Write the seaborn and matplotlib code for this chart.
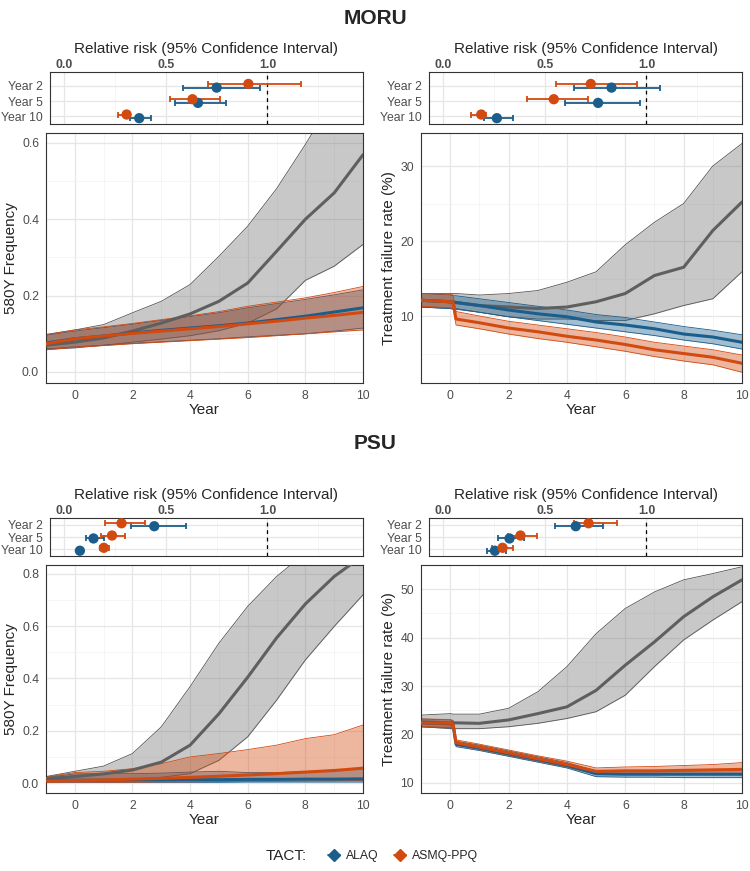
import numpy as np
import pandas as pd
import matplotlib
matplotlib.use("Agg")
import matplotlib.pyplot as plt
from matplotlib.lines import Line2D
from matplotlib.ticker import MultipleLocator, FormatStrFormatter
import seaborn as sns

sns.set_theme(style="white")
plt.rcParams['font.family'] = ['Liberation Sans', 'DejaVu Sans']

BLUE = "#1b5e8c"
ORNG = "#d24a10"
GRAY = "#666666"

# ---- time series (years since TACT start) ----
yrs_a = [-1, 0, 1, 2, 3, 4, 5, 6, 7, 8, 9, 10]
yrs_b = [-1, 0, 0.1, 0.2, 1, 2, 3, 4, 5, 6, 7, 8, 9, 10]

# MORU, 580Y frequency
moru_f_gray = [.070, .078, .089, .107, .128, .152, .185, .233, .316, .400, .469, .569]
moru_f_gray_lo = [.059, .063, .070, .078, .086, .095, .108, .128, .165, .240, .277, .334]
moru_f_gray_hi = [.098, .110, .124, .155, .185, .229, .303, .382, .480, .596, .720, .800]
moru_f_blue = [.076, .087, .094, .102, .109, .115, .121, .128, .137, .146, .157, .168]
moru_f_blue_lo = [.060, .066, .070, .075, .079, .083, .087, .092, .096, .100, .107, .115]
moru_f_blue_hi = [.096, .107, .116, .125, .135, .145, .155, .168, .179, .190, .202, .215]
moru_f_orng = [.074, .087, .094, .101, .107, .113, .119, .126, .133, .141, .148, .156]
moru_f_orng_lo = [.058, .065, .069, .074, .078, .082, .086, .090, .095, .100, .105, .110]
moru_f_orng_hi = [.098, .110, .118, .127, .137, .147, .158, .172, .183, .194, .208, .224]

# MORU, treatment failure
moru_t_gray = [12.1, 11.9, 11.9, 11.8, 11.4, 11.2, 11.0, 11.2, 11.9, 13.0, 15.4, 16.5, 21.4, 25.2]
moru_t_gray_hi = [13.0, 13.0, 13.0, 13.0, 12.8, 13.0, 13.4, 14.5, 15.9, 19.5, 22.5, 25.0, 30.0, 33.0]
moru_t_gray_lo = [11.2, 11.0, 11.0, 11.0, 10.5, 9.9, 9.6, 9.6, 9.4, 9.4, 10.3, 11.4, 12.3, 15.9]
moru_t_blue = [12.1, 11.9, 11.8, 11.8, 11.4, 10.8, 10.3, 9.9, 9.2, 8.8, 8.3, 7.6, 7.2, 6.5]
moru_t_blue_hi = [13.0, 12.8, 12.7, 12.7, 12.3, 11.8, 11.3, 10.8, 10.2, 9.8, 9.2, 8.6, 8.1, 7.5]
moru_t_blue_lo = [11.2, 11.0, 10.9, 10.9, 10.5, 9.9, 9.4, 8.9, 8.4, 7.9, 7.4, 6.8, 6.3, 5.6]
moru_t_orng = [12.1, 11.9, 11.8, 9.6, 9.1, 8.4, 7.9, 7.3, 6.8, 6.2, 5.5, 5.0, 4.5, 3.7]
moru_t_orng_hi = [13.0, 12.9, 12.8, 10.6, 10.0, 9.3, 8.8, 8.3, 7.8, 7.2, 6.5, 6.0, 5.5, 4.8]
moru_t_orng_lo = [11.3, 11.1, 11.0, 8.8, 8.3, 7.6, 7.0, 6.5, 5.9, 5.3, 4.6, 4.0, 3.5, 2.5]

# PSU, 580Y frequency
psu_f_gray = [.017, .025, .035, .050, .080, .145, .265, .405, .555, .685, .790, .870]
psu_f_gray_hi = [.025, .045, .065, .113, .215, .369, .535, .676, .790, .880, .940, .980]
psu_f_gray_lo = [.010, .010, .012, .016, .022, .036, .087, .177, .317, .471, .599, .720]
psu_f_blue = [.010, .011, .011, .012, .012, .013, .013, .014, .014, .015, .015, .016]
psu_f_blue_hi = [.022, .035, .036, .036, .038, .042, .045, .040, .040, .044, .050, .055]
psu_f_blue_lo = [.003, .003, .003, .003, .003, .003, .003, .004, .004, .004, .004, .004]
psu_f_orng = [.008, .010, .012, .015, .018, .022, .026, .031, .036, .042, .048, .057]
psu_f_orng_hi = [.023, .040, .045, .055, .074, .100, .113, .128, .145, .170, .185, .222]
psu_f_orng_lo = [.004, .004, .004, .004, .005, .005, .006, .006, .007, .008, .009, .010]

# PSU, treatment failure
psu_t_gray = [22.6, 22.4, 22.4, 22.4, 22.3, 23.0, 24.3, 25.7, 29.1, 34.3, 39.1, 44.3, 48.4, 51.9]
psu_t_gray_hi = [24.0, 24.3, 24.2, 24.2, 24.2, 25.4, 28.8, 34.0, 40.8, 46.0, 49.4, 51.9, 53.2, 54.6]
psu_t_gray_lo = [21.6, 21.2, 21.2, 21.2, 21.2, 21.6, 22.3, 23.3, 24.7, 28.1, 34.0, 39.5, 43.6, 47.4]
psu_t_blue = [22.4, 22.2, 22.0, 18.0, 17.2, 16.0, 14.8, 13.6, 11.9, 11.8, 11.8, 11.8, 11.8, 11.8]
psu_t_blue_hi = [23.2, 23.0, 22.8, 18.6, 17.8, 16.6, 15.4, 14.2, 12.5, 12.5, 12.5, 12.6, 12.6, 12.6]
psu_t_blue_lo = [21.6, 21.4, 21.2, 17.5, 16.7, 15.5, 14.3, 13.1, 11.3, 11.2, 11.2, 11.1, 11.1, 11.1]
psu_t_orng = [22.4, 22.3, 22.1, 18.3, 17.4, 16.2, 15.0, 13.8, 12.4, 12.5, 12.5, 12.6, 12.7, 12.8]
psu_t_orng_hi = [23.2, 23.1, 22.9, 18.9, 18.0, 16.8, 15.6, 14.5, 13.1, 13.3, 13.4, 13.6, 13.8, 14.2]
psu_t_orng_lo = [21.6, 21.5, 21.3, 17.8, 16.9, 15.7, 14.5, 13.3, 11.8, 11.8, 11.7, 11.8, 11.8, 11.8]

# ---- relative risks (Year 2, Year 5, Year 10) ----
rr_years = ["Year 2", "Year 5", "Year 10"]
moru_f_rr_alaq = [0.750, 0.658, 0.369]
moru_f_lo_alaq = [0.586, 0.545, 0.322]
moru_f_hi_alaq = [0.964, 0.796, 0.425]
moru_f_rr_asmq = [0.906, 0.631, 0.307]
moru_f_lo_asmq = [0.706, 0.519, 0.264]
moru_f_hi_asmq = [1.164, 0.767, 0.315]

moru_t_rr_alaq = [0.828, 0.762, 0.264]
moru_t_lo_alaq = [0.643, 0.600, 0.202]
moru_t_hi_alaq = [1.069, 0.967, 0.341]
moru_t_rr_asmq = [0.726, 0.544, 0.187]
moru_t_lo_asmq = [0.554, 0.413, 0.138]
moru_t_hi_asmq = [0.951, 0.710, 0.210]

psu_f_rr_alaq = [0.443, 0.144, 0.077]
psu_f_lo_alaq = [0.330, 0.107, 0.070]
psu_f_hi_alaq = [0.601, 0.195, 0.085]
psu_f_rr_asmq = [0.282, 0.235, 0.195]
psu_f_lo_asmq = [0.199, 0.182, 0.174]
psu_f_hi_asmq = [0.396, 0.297, 0.218]

psu_t_rr_alaq = [0.652, 0.326, 0.254]
psu_t_lo_alaq = [0.549, 0.270, 0.213]
psu_t_hi_alaq = [0.785, 0.398, 0.307]
psu_t_rr_asmq = [0.715, 0.380, 0.292]
psu_t_lo_asmq = [0.643, 0.320, 0.238]
psu_t_hi_asmq = [0.857, 0.462, 0.344]


fig = plt.figure(figsize=(7.5, 8.71), dpi=100)


def box(l, t, r, b):
    return fig.add_axes([l / 750, 1 - b / 871, (r - l) / 750, (b - t) / 871])


def bw(ax):
    for s in ax.spines.values():
        s.set_color("#333333")
        s.set_linewidth(0.8)
    ax.grid(True, which="major", color="#e6e6e6", lw=0.9, zorder=0)
    ax.grid(True, which="minor", color="#f2f2f2", lw=0.5, zorder=0)
    ax.set_axisbelow(True)
    ax.tick_params(which="major", length=3, width=0.7, color="#333333",
                   labelsize=8.8, labelcolor="#4d4d4d", pad=2)
    ax.tick_params(which="minor", length=0)


def series(ax, years, gray, blue, orng, ylab, ylim, major, minor, fmt):
    arms = [("none", GRAY) + gray, ("ALAQ", BLUE) + blue, ("ASMQ-PPQ", ORNG) + orng]
    rows = []
    for name, col, mean, lo, hi in arms:
        if name == "none":
            ax.fill_between(years, lo, hi, color="#777777", alpha=0.4, lw=0, zorder=2)
            ax.plot(years, lo, color="#555555", lw=0.6, zorder=2)
            ax.plot(years, hi, color="#555555", lw=0.6, zorder=2)
        else:
            ax.fill_between(years, lo, hi, color=col, alpha=0.4, lw=0, zorder=2)
            ax.plot(years, lo, color=col, lw=0.6, zorder=2)
            ax.plot(years, hi, color=col, lw=0.6, zorder=2)
        rows += [(y, v, name) for y, v in zip(years, mean)]
    df = pd.DataFrame(rows, columns=["year", "value", "arm"])
    sns.lineplot(data=df, x="year", y="value", hue="arm", ax=ax, lw=2.2,
                 palette={"none": "#5f5f5f", "ALAQ": BLUE, "ASMQ-PPQ": ORNG},
                 legend=False, zorder=3)
    ax.set_xlim(-1, 10)
    ax.set_ylim(*ylim)
    ax.xaxis.set_major_locator(MultipleLocator(2))
    ax.xaxis.set_minor_locator(MultipleLocator(1))
    ax.yaxis.set_major_locator(MultipleLocator(major))
    ax.yaxis.set_minor_locator(MultipleLocator(minor))
    ax.yaxis.set_major_formatter(FormatStrFormatter(fmt))
    bw(ax)
    ax.set_xlabel("Year", fontsize=11, labelpad=1)
    ax.set_ylabel(ylab, fontsize=11, labelpad=3)


def forest(ax, alaq, asmq, ylim):
    rows = []
    for arm, (rr, lo, hi), off in [("ALAQ", alaq, 0.12), ("ASMQ-PPQ", asmq, -0.12)]:
        col = BLUE if arm == "ALAQ" else ORNG
        pos = np.arange(len(rr_years)) + off
        ax.errorbar(rr, pos, xerr=[np.array(rr) - np.array(lo), np.array(hi) - np.array(rr)],
                    fmt="none", ecolor=col, elinewidth=1.3, capsize=2, capthick=1.3, zorder=3)
        rows += [(r, p, arm) for r, p in zip(rr, pos)]
    df = pd.DataFrame(rows, columns=["rr", "pos", "arm"])
    sns.scatterplot(data=df, x="rr", y="pos", hue="arm", ax=ax, s=55,
                    palette={"ALAQ": BLUE, "ASMQ-PPQ": ORNG}, edgecolor="none",
                    legend=False, zorder=4)
    ax.axvline(1.0, color="black", ls=(0, (3, 3)), lw=0.9, zorder=2)
    ax.set_xlim(-0.07, 1.47)
    ax.set_ylim(*ylim)
    ax.set_yticks(range(len(rr_years)))
    ax.set_yticklabels(rr_years)
    ax.set_xticks([0.0, 0.5, 1.0])
    ax.set_xticklabels(["0.0", "0.5", "1.0"], fontweight="bold")
    ax.xaxis.set_minor_locator(MultipleLocator(0.25))
    ax.xaxis.tick_top()
    ax.xaxis.set_label_position("top")
    bw(ax)
    ax.tick_params(axis="x", length=0, pad=1)
    ax.tick_params(axis="y", labelsize=8.8)
    ax.set_xlabel("Relative risk (95% Confidence Interval)", fontsize=11, labelpad=4)
    ax.set_ylabel("")


# MORU
fig.text(0.5, 1 - 18 / 871, "MORU", ha="center", va="center", fontsize=15, fontweight="bold")
forest(box(50, 72, 363, 124), (moru_f_rr_alaq, moru_f_lo_alaq, moru_f_hi_alaq),
       (moru_f_rr_asmq, moru_f_lo_asmq, moru_f_hi_asmq), (2.5, -0.9))
forest(box(429, 72, 742, 124), (moru_t_rr_alaq, moru_t_lo_alaq, moru_t_hi_alaq),
       (moru_t_rr_asmq, moru_t_lo_asmq, moru_t_hi_asmq), (2.5, -0.9))
series(box(46, 133, 363, 383), yrs_a,
       (moru_f_gray, moru_f_gray_lo, moru_f_gray_hi),
       (moru_f_blue, moru_f_blue_lo, moru_f_blue_hi),
       (moru_f_orng, moru_f_orng_lo, moru_f_orng_hi),
       "580Y Frequency", (-0.029, 0.626), 0.2, 0.1, "%.1f")
series(box(421, 133, 742, 383), yrs_b,
       (moru_t_gray, moru_t_gray_lo, moru_t_gray_hi),
       (moru_t_blue, moru_t_blue_lo, moru_t_blue_hi),
       (moru_t_orng, moru_t_orng_lo, moru_t_orng_hi),
       "Treatment failure rate (%)", (1.07, 34.4), 10, 5, "%d")

# PSU
fig.text(0.5, 1 - 443 / 871, "PSU", ha="center", va="center", fontsize=15, fontweight="bold")
forest(box(50, 518, 363, 556), (psu_f_rr_alaq, psu_f_lo_alaq, psu_f_hi_alaq),
       (psu_f_rr_asmq, psu_f_lo_asmq, psu_f_hi_asmq), (2.55, -0.55))
forest(box(429, 518, 742, 556), (psu_t_rr_alaq, psu_t_lo_alaq, psu_t_hi_alaq),
       (psu_t_rr_asmq, psu_t_lo_asmq, psu_t_hi_asmq), (2.55, -0.55))
series(box(46, 565, 363, 793), yrs_a,
       (psu_f_gray, psu_f_gray_lo, psu_f_gray_hi),
       (psu_f_blue, psu_f_blue_lo, psu_f_blue_hi),
       (psu_f_orng, psu_f_orng_lo, psu_f_orng_hi),
       "580Y Frequency", (-0.038, 0.834), 0.2, 0.1, "%.1f")
series(box(421, 565, 742, 793), yrs_b,
       (psu_t_gray, psu_t_gray_lo, psu_t_gray_hi),
       (psu_t_blue, psu_t_blue_lo, psu_t_blue_hi),
       (psu_t_orng, psu_t_orng_lo, psu_t_orng_hi),
       "Treatment failure rate (%)", (7.93, 54.96), 10, 5, "%d")

# legend
fig.text(266 / 750, 1 - 856 / 871, "TACT:", ha="left", va="center", fontsize=11)
handles = [Line2D([], [], color=BLUE, marker="D", markersize=6, lw=1.3),
           Line2D([], [], color=ORNG, marker="D", markersize=6, lw=1.3)]
fig.legend(handles, ["ALAQ", "ASMQ-PPQ"], loc="center", bbox_to_anchor=(403 / 750, 1 - 856 / 871),
           ncol=2, frameon=False, fontsize=8.8, handlelength=1.0, columnspacing=1.2,
           handletextpad=0.5)

fig.savefig("out.png", dpi=100)
